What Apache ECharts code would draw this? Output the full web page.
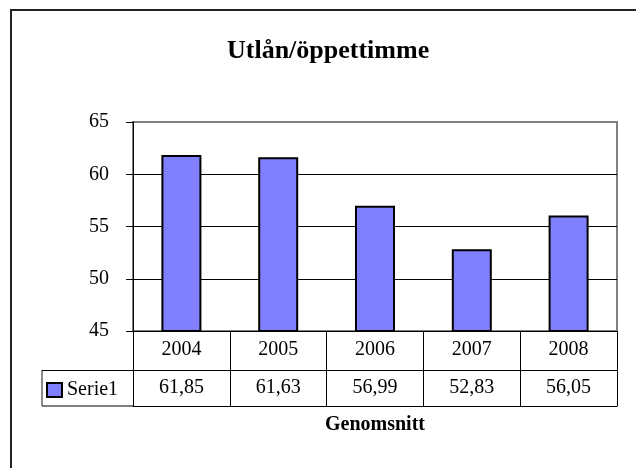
<!DOCTYPE html>
<html>
<head>
<meta charset="utf-8">
<script src="https://cdn.jsdelivr.net/npm/echarts@6/dist/echarts.min.js"></script>
<style>
html,body{margin:0;padding:0;background:#fff;}
#c{width:636px;height:468px;}
</style>
</head>
<body>
<div id="c"></div>
<script>
const title = 'Utlån/öppettimme';
const categories = ['2004', '2005', '2006', '2007', '2008'];
const seriesName = 'Serie1';
const values = [61.85, 61.63, 56.99, 52.83, 56.05];
const yTicks = [45, 50, 55, 60, 65];
const xTitle = 'Genomsnitt';

const FONT = '"Liberation Serif", "Times New Roman", serif';
const chart = echarts.init(document.getElementById('c'), null, {renderer: 'canvas'});
const valueLabels = values.map(v => v.toFixed(2).replace('.', ','));
const splitColors = yTicks.map((t, i) => i === yTicks.length - 1 ? '#808080' : '#000');

chart.setOption({
  animation: false,
  backgroundColor: '#fff',
  textStyle: {fontFamily: FONT, color: '#000'},
  title: {
    text: title,
    left: 227, top: 38, padding: 0,
    textStyle: {fontFamily: FONT, fontSize: 26, fontWeight: 'bold', color: '#000'}
  },
  legend: {
    data: [seriesName],
    left: 46, top: 380, padding: 0,
    itemWidth: 15, itemHeight: 14, itemGap: 5,
    icon: 'rect',
    itemStyle: {color: '#8080FF', borderColor: '#000', borderWidth: 2},
    textStyle: {fontFamily: FONT, fontSize: 20, color: '#000'}
  },
  grid: {
    left: 133, right: 19, top: 122, bottom: 137,
    show: true, borderColor: '#808080', borderWidth: 2, backgroundColor: 'transparent',
    containLabel: false
  },
  xAxis: [
    {
      type: 'category', data: categories, position: 'bottom',
      axisLine: {show: true, lineStyle: {color: '#000', width: 1}},
      axisTick: {show: true, alignWithLabel: false, inside: false, length: 75, lineStyle: {color: '#000', width: 1}},
      axisLabel: {margin: 9, fontFamily: FONT, fontSize: 20, color: '#000'},
      splitLine: {show: false}
    },
    {
      type: 'category', data: valueLabels, position: 'bottom', offset: 39,
      axisLine: {show: true, lineStyle: {color: '#000', width: 1}},
      axisTick: {show: false},
      axisLabel: {margin: 8, fontFamily: FONT, fontSize: 20, color: '#000'},
      splitLine: {show: false}
    },
    {
      type: 'category', data: categories, position: 'bottom', offset: 75,
      axisLine: {show: true, lineStyle: {color: '#000', width: 1}},
      axisTick: {show: false},
      axisLabel: {show: false},
      name: xTitle, nameLocation: 'middle', nameGap: 19,
      nameTextStyle: {fontFamily: FONT, fontSize: 20, fontWeight: 'bold', color: '#000', verticalAlign: 'middle'}
    }
  ],
  yAxis: {
    type: 'value', min: yTicks[0], max: yTicks[yTicks.length - 1], interval: 5,
    axisLine: {show: true, lineStyle: {color: '#000', width: 1}},
    axisTick: {show: true, inside: false, length: 7, lineStyle: {color: '#000'}},
    axisLabel: {margin: 24, fontFamily: FONT, fontSize: 20, color: '#000'},
    splitLine: {show: true, lineStyle: {color: splitColors, width: 1}}
  },
  graphic: [
    {type: 'rect', shape: {x: 11, y: 10, width: 700, height: 600}, style: {fill: 'none', stroke: '#222', lineWidth: 2}, silent: true, z: 0},
    {type: 'line', shape: {x1: 42, y1: 370, x2: 42, y2: 406}, style: {stroke: '#666', lineWidth: 1.5}, silent: true, z: 1},
    {type: 'line', shape: {x1: 42, y1: 370.5, x2: 133, y2: 370.5}, style: {stroke: '#000', lineWidth: 1}, silent: true, z: 1},
    {type: 'line', shape: {x1: 42, y1: 406, x2: 133, y2: 406}, style: {stroke: '#000', lineWidth: 1}, silent: true, z: 1}
  ],
  series: [{
    name: seriesName, type: 'bar', data: values, xAxisIndex: 0, yAxisIndex: 0,
    barWidth: 40,
    itemStyle: {color: '#8080FF', borderColor: '#000', borderWidth: 2}
  }]
});
</script>
</body>
</html>
